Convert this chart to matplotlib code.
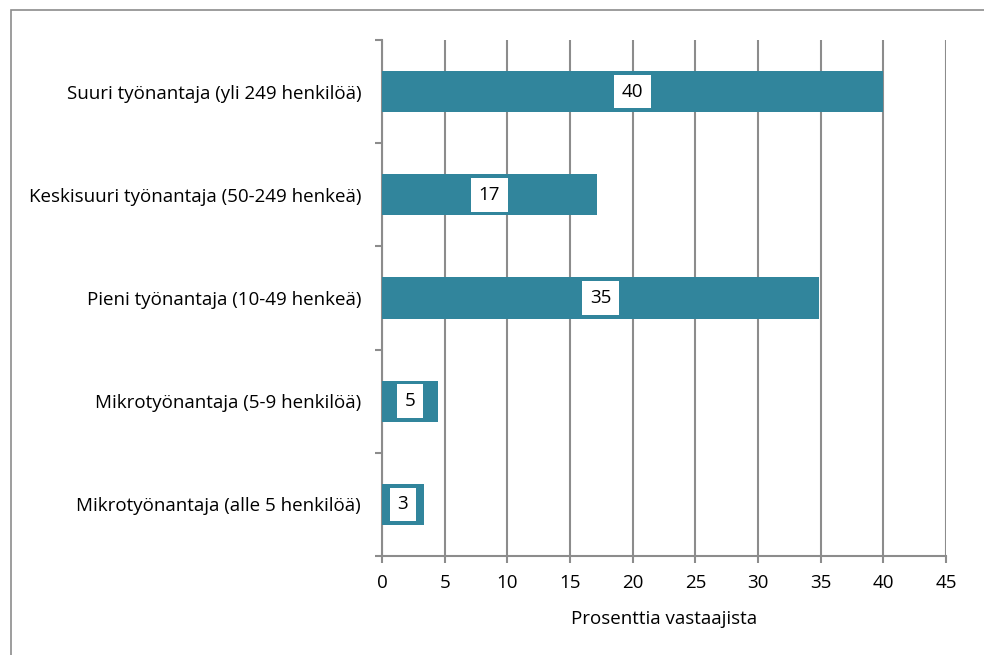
import matplotlib
matplotlib.use("Agg")
import matplotlib.pyplot as plt
from matplotlib.patches import Rectangle

categories = [
    "Mikrotyönantaja (alle 5 henkilöä)",
    "Mikrotyönantaja (5-9 henkilöä)",
    "Pieni työnantaja (10-49 henkeä)",
    "Keskisuuri työnantaja (50-249 henkeä)",
    "Suuri työnantaja (yli 249 henkilöä)",
]
values = [3.35, 4.47, 34.85, 17.15, 40.0]
labels = ["3", "5", "35", "17", "40"]
xticks = [0, 5, 10, 15, 20, 25, 30, 35, 40, 45]
xlabel = "Prosenttia vastaajista"

plt.rcParams['font.family'] = ['Open Sans', 'DejaVu Sans']

W, H = 984, 655
fig = plt.figure(figsize=(W / 100, H / 100), dpi=100)
fig.patch.set_facecolor("white")

fs = 13.5

# outer border (left and top visible)
fig.patches.append(Rectangle((11 / W, -0.05), 1.2, 1.05 - 10 / H,
                             transform=fig.transFigure, fill=False,
                             edgecolor="#8c8c8c", linewidth=1.2))

ax = fig.add_axes([382 / W, (H - 556) / H, (946 - 382) / W, (556 - 40) / H])
grid_c = "#8c8c8c"
ypos = list(range(len(categories)))
ax.barh(ypos, values, height=0.4, color="#31859C", zorder=3)
for y, v, lab in zip(ypos, values, labels):
    ax.text(v / 2, y, lab, ha="center", va="center", fontsize=fs, zorder=4,
            bbox=dict(boxstyle="square,pad=0.42", facecolor="white", edgecolor="none"))

ax.set_xlim(0, 45)
ax.set_ylim(-0.5, len(categories) - 0.5)
ax.set_xticks(xticks)
ax.set_xticklabels([str(t) for t in xticks], fontsize=fs)
ax.set_yticks(ypos)
ax.set_yticklabels(categories, fontsize=fs)
ax.set_yticks([i - 0.5 for i in range(len(categories) + 1)], minor=True)
ax.tick_params(axis="y", which="major", length=0, pad=15)
ax.tick_params(axis="y", which="minor", length=5, width=1.5, color=grid_c)
ax.tick_params(axis="x", which="major", length=5, width=1.5, color=grid_c, pad=8)
ax.xaxis.grid(True, color=grid_c, linewidth=1.5, zorder=0)
ax.set_axisbelow(True)
for s in ["top", "right"]:
    ax.spines[s].set_visible(False)
for s in ["left", "bottom"]:
    ax.spines[s].set_color(grid_c)
    ax.spines[s].set_linewidth(1.5)
ax.set_xlabel(xlabel, fontsize=fs, labelpad=13)

fig.savefig("out.png", dpi=100, facecolor="white")
